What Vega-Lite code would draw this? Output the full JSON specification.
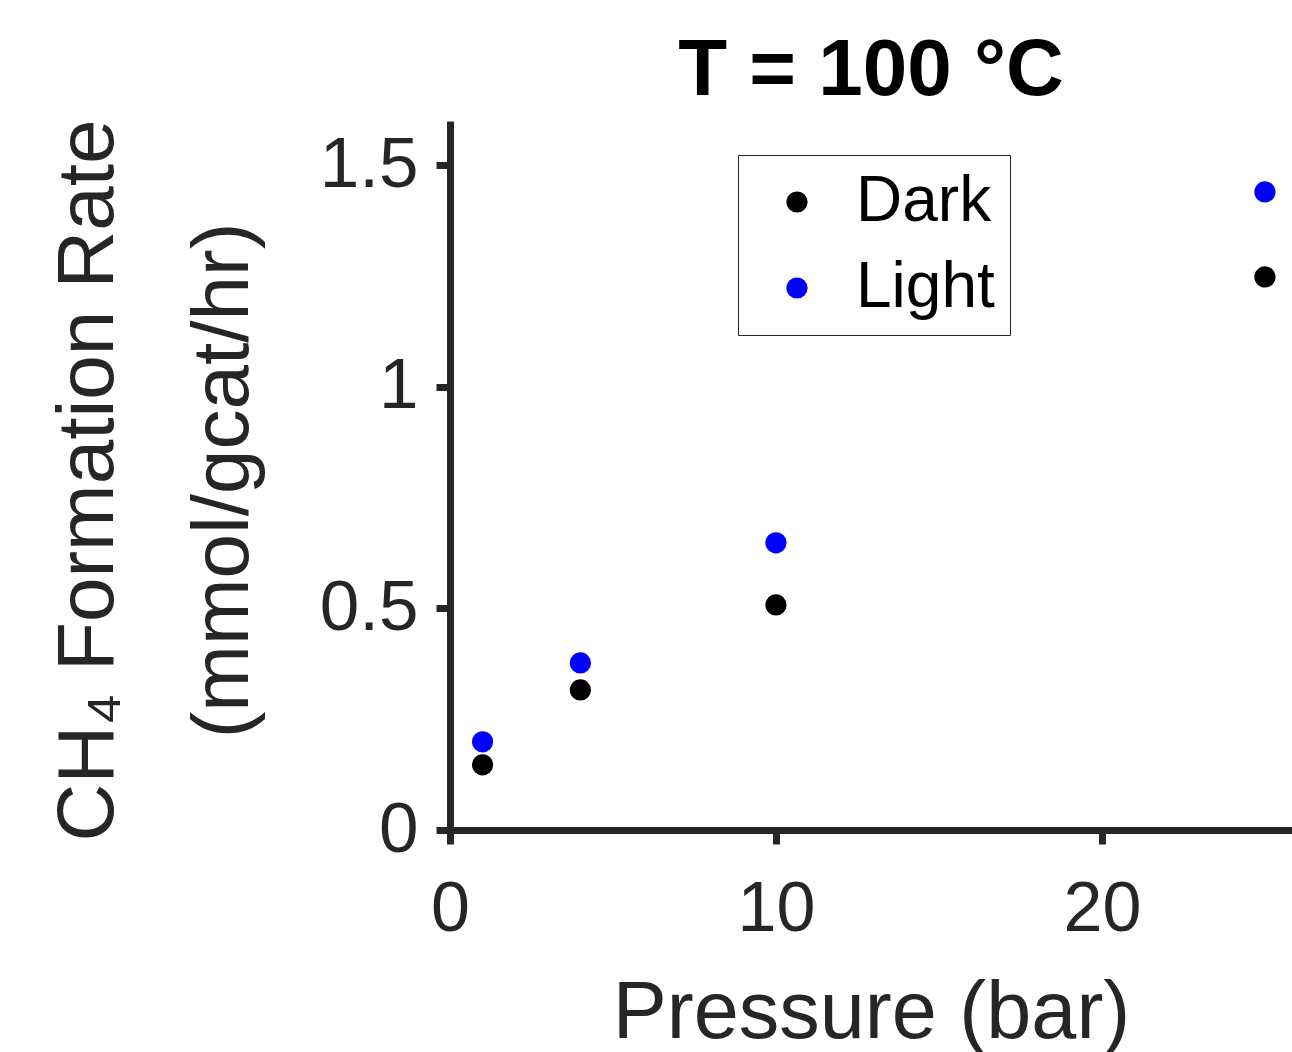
{
  "$schema": "https://vega.github.io/schema/vega-lite/v6.json",
  "autosize": "none",
  "width": 842,
  "height": 709,
  "padding": {"left": 450, "top": 121, "right": 0, "bottom": 222},
  "background": "white",
  "config": {
    "view": {"stroke": null},
    "font": "Liberation Sans"
  },
  "title": {
    "text": "T = 100 °C",
    "font": "Liberation Sans",
    "fontSize": 80,
    "fontWeight": "bold",
    "color": "#000000",
    "anchor": "middle",
    "baseline": "alphabetic",
    "offset": 21,
    "dy": 77
  },
  "data": {
    "values": [
      {"pressure": 1, "rate": 0.147, "condition": "Dark"},
      {"pressure": 4, "rate": 0.316, "condition": "Dark"},
      {"pressure": 10, "rate": 0.508, "condition": "Dark"},
      {"pressure": 25, "rate": 1.248, "condition": "Dark"},
      {"pressure": 1, "rate": 0.199, "condition": "Light"},
      {"pressure": 4, "rate": 0.377, "condition": "Light"},
      {"pressure": 10, "rate": 0.648, "condition": "Light"},
      {"pressure": 25, "rate": 1.44, "condition": "Light"}
    ]
  },
  "mark": {"type": "point", "filled": true, "shape": "circle", "size": 450, "opacity": 1, "strokeWidth": 0},
  "encoding": {
    "x": {
      "field": "pressure",
      "type": "quantitative",
      "scale": {"domain": [0, 25.83], "nice": false, "zero": false},
      "axis": {
        "values": [0, 10, 20],
        "grid": false,
        "title": "Pressure (bar)",
        "titleFont": "Liberation Sans",
        "titleFontSize": 81,
        "titleFontWeight": "normal",
        "titleColor": "#262626",
        "titleBaseline": "alphabetic",
        "titleY": 207,
        "labelFont": "Liberation Sans",
        "labelFontSize": 70,
        "labelColor": "#262626",
        "labelPadding": 31,
        "labelBaseline": "top",
        "labelFlush": false,
        "labelOverlap": false,
        "domainColor": "#262626",
        "domainWidth": 7,
        "domainCap": "butt",
        "tickColor": "#262626",
        "tickWidth": 7,
        "tickSize": 14
      }
    },
    "y": {
      "field": "rate",
      "type": "quantitative",
      "scale": {"domain": [0, 1.6], "nice": false, "zero": false},
      "axis": {
        "values": [0, 0.5, 1, 1.5],
        "format": "~g",
        "grid": false,
        "title": ["CH₄ Formation Rate", "(mmol/gcat/hr)"],
        "titleFont": "Liberation Sans",
        "titleFontSize": 80,
        "titleFontWeight": "normal",
        "titleColor": "#262626",
        "titleAngle": -90,
        "titleAlign": "center",
        "titleBaseline": "alphabetic",
        "titleLineHeight": 135,
        "titleX": -338,
        "titleY": 359,
        "labelFont": "Liberation Sans",
        "labelFontSize": 71,
        "labelColor": "#262626",
        "labelPadding": 18,
        "labelBaseline": "middle",
        "labelFlush": false,
        "labelOverlap": false,
        "domainColor": "#262626",
        "domainWidth": 7,
        "domainCap": "butt",
        "tickColor": "#262626",
        "tickWidth": 7,
        "tickSize": 14
      }
    },
    "color": {
      "field": "condition",
      "type": "nominal",
      "scale": {"domain": ["Dark", "Light"], "range": ["#000000", "#0000ff"]},
      "legend": {
        "title": null,
        "orient": "none",
        "legendX": 288,
        "legendY": 34,
        "direction": "vertical",
        "fillColor": "white",
        "strokeColor": "#262626",
        "padding": 15,
        "symbolType": "circle",
        "symbolSize": 450,
        "symbolStrokeWidth": 0,
        "symbolOffset": 12,
        "labelFont": "Liberation Sans",
        "labelFontSize": 64,
        "labelColor": "#000000",
        "labelOffset": 27,
        "rowPadding": 22
      }
    }
  }
}
